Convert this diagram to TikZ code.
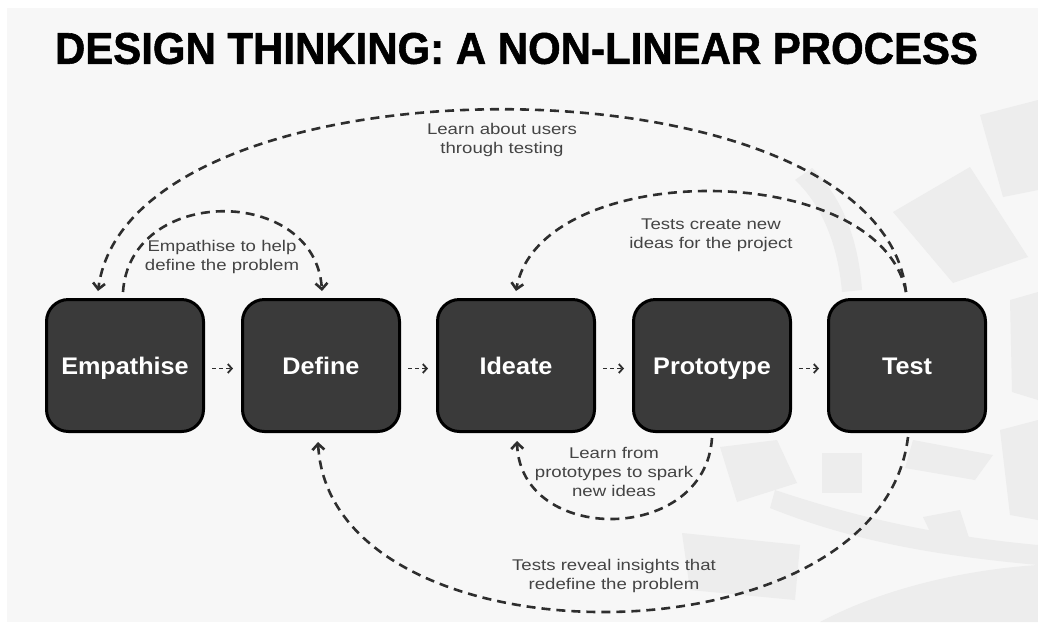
\documentclass[tikz,border=0pt]{standalone}
\usepackage{fontspec}
\setmainfont{Liberation Sans}
\newfontfamily\lblfont[FakeStretch=1.2]{Liberation Sans}
\newfontfamily\boxfont[FakeStretch=1.05]{Liberation Sans}
\newfontfamily\titlefont[BoldFeatures={FakeBold=1.3}]{Liberation Sans}
\usetikzlibrary{arrows.meta,calc}
\definecolor{bgc}{HTML}{F7F7F7}
\definecolor{decoc}{HTML}{EDEDED}
\definecolor{boxc}{HTML}{3A3A3A}
\definecolor{linec}{HTML}{2E2E2E}
\definecolor{textc}{HTML}{444444}
\tikzset{
  stagebox/.style={draw=black, line width=3pt, fill=boxc, rounded corners=22pt,
    minimum width=157pt, minimum height=132pt, inner sep=0pt,
    text height=17pt, text depth=0pt,
    text=white, font=\boxfont\bfseries\fontsize{24pt}{28pt}\selectfont},
  loop/.style={draw=linec, line width=2.6pt, dash pattern=on 9pt off 6pt},
  looparr/.style={loop, -{Straight Barb[length=6pt,width=12pt]}},
  smallarr/.style={draw=linec, line width=1.8pt, dash pattern=on 4pt off 3pt,
    -{Straight Barb[length=4pt,width=9pt]}},
  lbl/.style={text=textc, align=center, inner sep=0pt,
    font=\lblfont\fontsize{15.5pt}{19pt}\selectfont},
  deco/.style={fill=decoc, draw=none}
}
\begin{document}
\begin{tikzpicture}[x=1pt,y=-1pt]
\useasboundingbox (0,0) rectangle (1038,622);
\fill[white] (0,0) rectangle (1038,622);
\fill[bgc] (7,8) rectangle (1038,622);
% faint decoration on the right
\fill[deco] (980,115) -- (1038,100) -- (1038,190) -- (1003,197) -- cycle;
\fill[deco] (893,212) -- (970,167) -- (1028,257) -- (953,283) -- cycle;
\fill[deco] (812,168) .. controls (840,195) and (858,235) .. (862,290) -- (842,292) .. controls (838,245) and (822,205) .. (795,180) -- cycle;
\fill[deco] (1010,300) -- (1038,292) -- (1038,400) -- (1012,392) -- cycle;
\fill[deco] (720,447) -- (777,440) -- (797,483) -- (737,502) -- cycle;
\fill[deco] (822,453) -- (862,453) -- (862,493) -- (822,493) -- cycle;
\fill[deco] (913,440) -- (993,455) -- (975,480) -- (905,468) -- cycle;
\fill[deco] (923,517) -- (960,510) -- (972,547) -- (940,553) -- cycle;
\fill[deco] (682,533) -- (800,545) -- (795,600) -- (690,590) -- cycle;
\fill[deco] (775,490) .. controls (850,515) and (930,535) .. (1038,545) -- (1038,565) .. controls (930,555) and (850,540) .. (770,508) -- cycle;
\fill[deco] (820,622) .. controls (880,590) and (960,570) .. (1038,565) -- (1038,622) -- cycle;
\fill[deco] (1000,430) -- (1038,420) -- (1038,520) -- (1010,515) -- cycle;
% title
\node[inner sep=0pt, anchor=center] (title) at (516.5,48.5)
  {\resizebox{923pt}{31pt}{\titlefont\bfseries DESIGN THINKING: A NON-LINEAR PROCESS}};
% stages
\node[stagebox] (emp) at (125,365.5) {Empathise};
\node[stagebox] (def) at (321,365.5) {Define};
\node[stagebox] (ide) at (516,365.5) {Ideate};
\node[stagebox] (pro) at (712,365.5) {Prototype};
\node[stagebox] (tst) at (907,365.5) {Test};
% small forward arrows
\draw[smallarr] ($(emp.east)+(7,3)$) -- ($(def.west)+(-8,3)$);
\draw[smallarr] ($(def.east)+(7,3)$) -- ($(ide.west)+(-8,3)$);
\draw[smallarr] ($(ide.east)+(7,3)$) -- ($(pro.west)+(-8,3)$);
\draw[smallarr] ($(pro.east)+(7,3)$) -- ($(tst.west)+(-8,3)$);
% loops
\coordinate (tsttop) at ($(tst.north)+(-1,-6)$);
\draw[looparr] (tsttop) .. controls (880,49) and (130,49) .. ($(emp.north)+(-27,-7)$);
\draw[looparr] ($(emp.north)+(-2,-6)$) .. controls (130,185) and (315,185) .. ($(def.north)+(1,-7)$);
\draw[looparr] (tsttop) .. controls (880,158) and (540,158) .. ($(ide.north)+(0,-7)$);
\draw[looparr] ($(pro.south)+(0,5)$) .. controls (705,545) and (520,545) .. ($(ide.south)+(1,8)$);
\draw[looparr] ($(tst.south)+(1,4)$) .. controls (880,669) and (330,669) .. ($(def.south)+(-3,9)$);
% labels
\node[lbl] (l1) at (502,140) {Learn about users\\through testing};
\node[lbl] (l2) at (222,257) {Empathise to help\\define the problem};
\node[lbl] (l3) at (711,235) {Tests create new\\ideas for the project};
\node[lbl] (l4) at (614,472) {Learn from\\prototypes to spark\\new ideas};
\node[lbl] (l5) at (614,576) {Tests reveal insights that\\redefine the problem};
\end{tikzpicture}
\end{document}
